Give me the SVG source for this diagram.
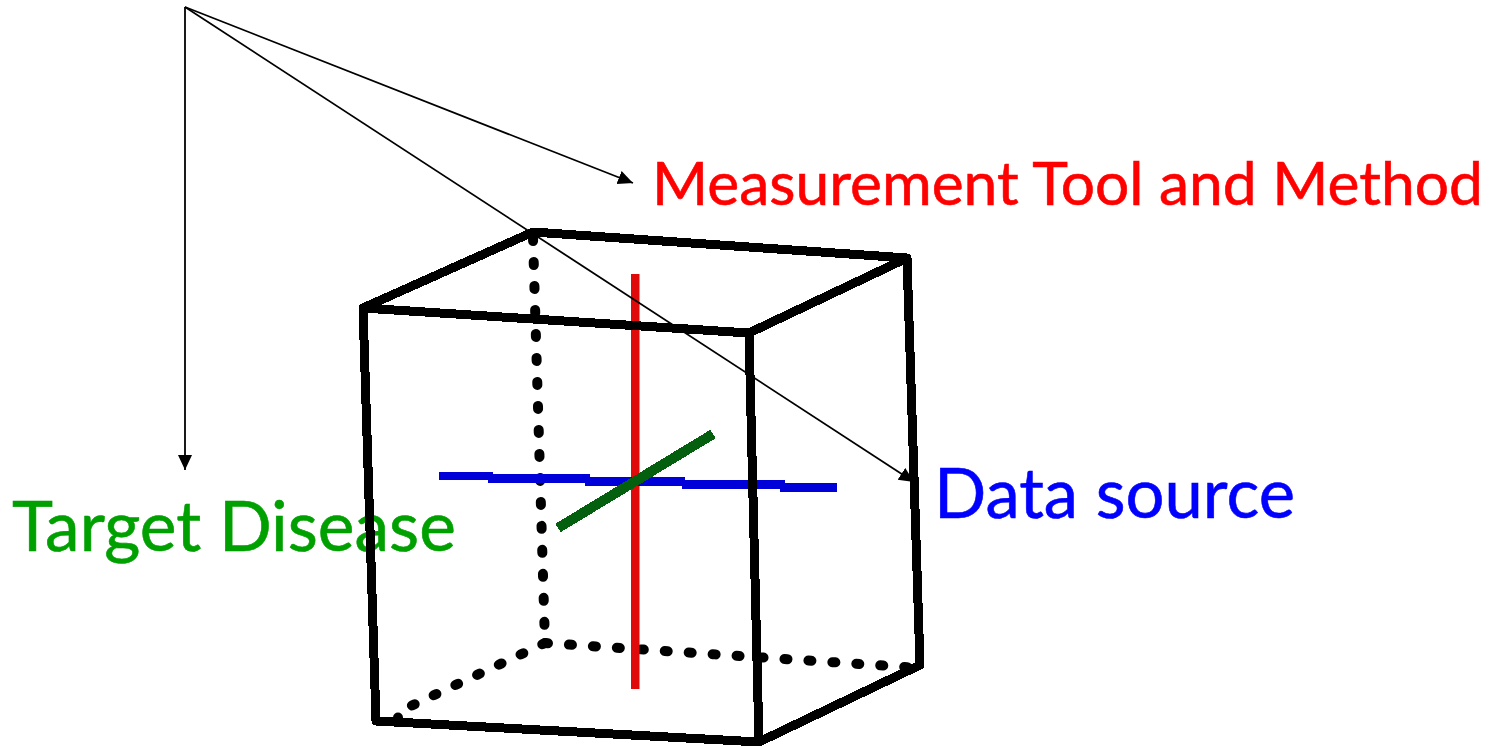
<svg xmlns="http://www.w3.org/2000/svg" width="1494" height="747" viewBox="0 0 1494 747">
<style>
.t{font-family:Lato,"Open Sans","Noto Sans",sans-serif;stroke-width:.6}
.m{font-size:60.500px;fill:#ff0000;stroke:#ff0000}
.s{font-size:68.800px;fill:#0000ff;stroke:#0000ff}
.g{font-size:69.500px;fill:#00a000;stroke:#00a000}
.b{fill:none;stroke:#000;stroke-width:9;stroke-linejoin:round;stroke-linecap:round;shape-rendering:crispEdges}
.d{fill:none;stroke:#000;stroke-width:10;stroke-linecap:round;stroke-dasharray:3 21}
.a{fill:none;stroke:#000;stroke-width:1.8}
</style>
<defs><marker id="m" markerUnits="userSpaceOnUse" markerWidth="16" markerHeight="16" refX="15" refY="7" orient="auto"><path d="M0 0L15 7L0 14Z"/></marker></defs>
<rect width="1494" height="747" fill="#fff"/>
<g id="label-measurement"><text class="t m" x="652" y="205">Measurement Tool and Method</text></g>
<g id="label-data"><text class="t s" x="934" y="518">Data source</text></g>
<g id="label-target"><text class="t g" x="12" y="551">Target Disease</text></g>
<g id="cube-hidden">
<path class="d" d="M533 238L545 643"/>
<path class="d" d="M545 643L920 668"/>
<path class="d" d="M545 643L398 712V720"/>
</g>
<g id="axes">
<path d="M631 274H639.500V689H631Z" fill="#e00a0a"/>
<path d="M439 472H493V474H590V477H685V480H785V483H837V492H780V489H682V486H585V483H488V480H439Z" fill="#0000d8"/>
<path d="M558 528L713 434" stroke="#04600f" stroke-width="10" fill="none" shape-rendering="crispEdges"/>
</g>
<g id="cube">
<path class="b" d="M363 308L533 232L907 258L749 333ZM363 308L749 333L759 742L376 721ZM907 258L920 665L759 742"/>
</g>
<g id="connectors">
<path class="a" d="M185 7V470" marker-end="url(#m)"/>
<path class="a" d="M185 7L633 183" marker-end="url(#m)"/>
<path class="a" d="M185 7L914 482" marker-end="url(#m)"/>
</g>
</svg>
